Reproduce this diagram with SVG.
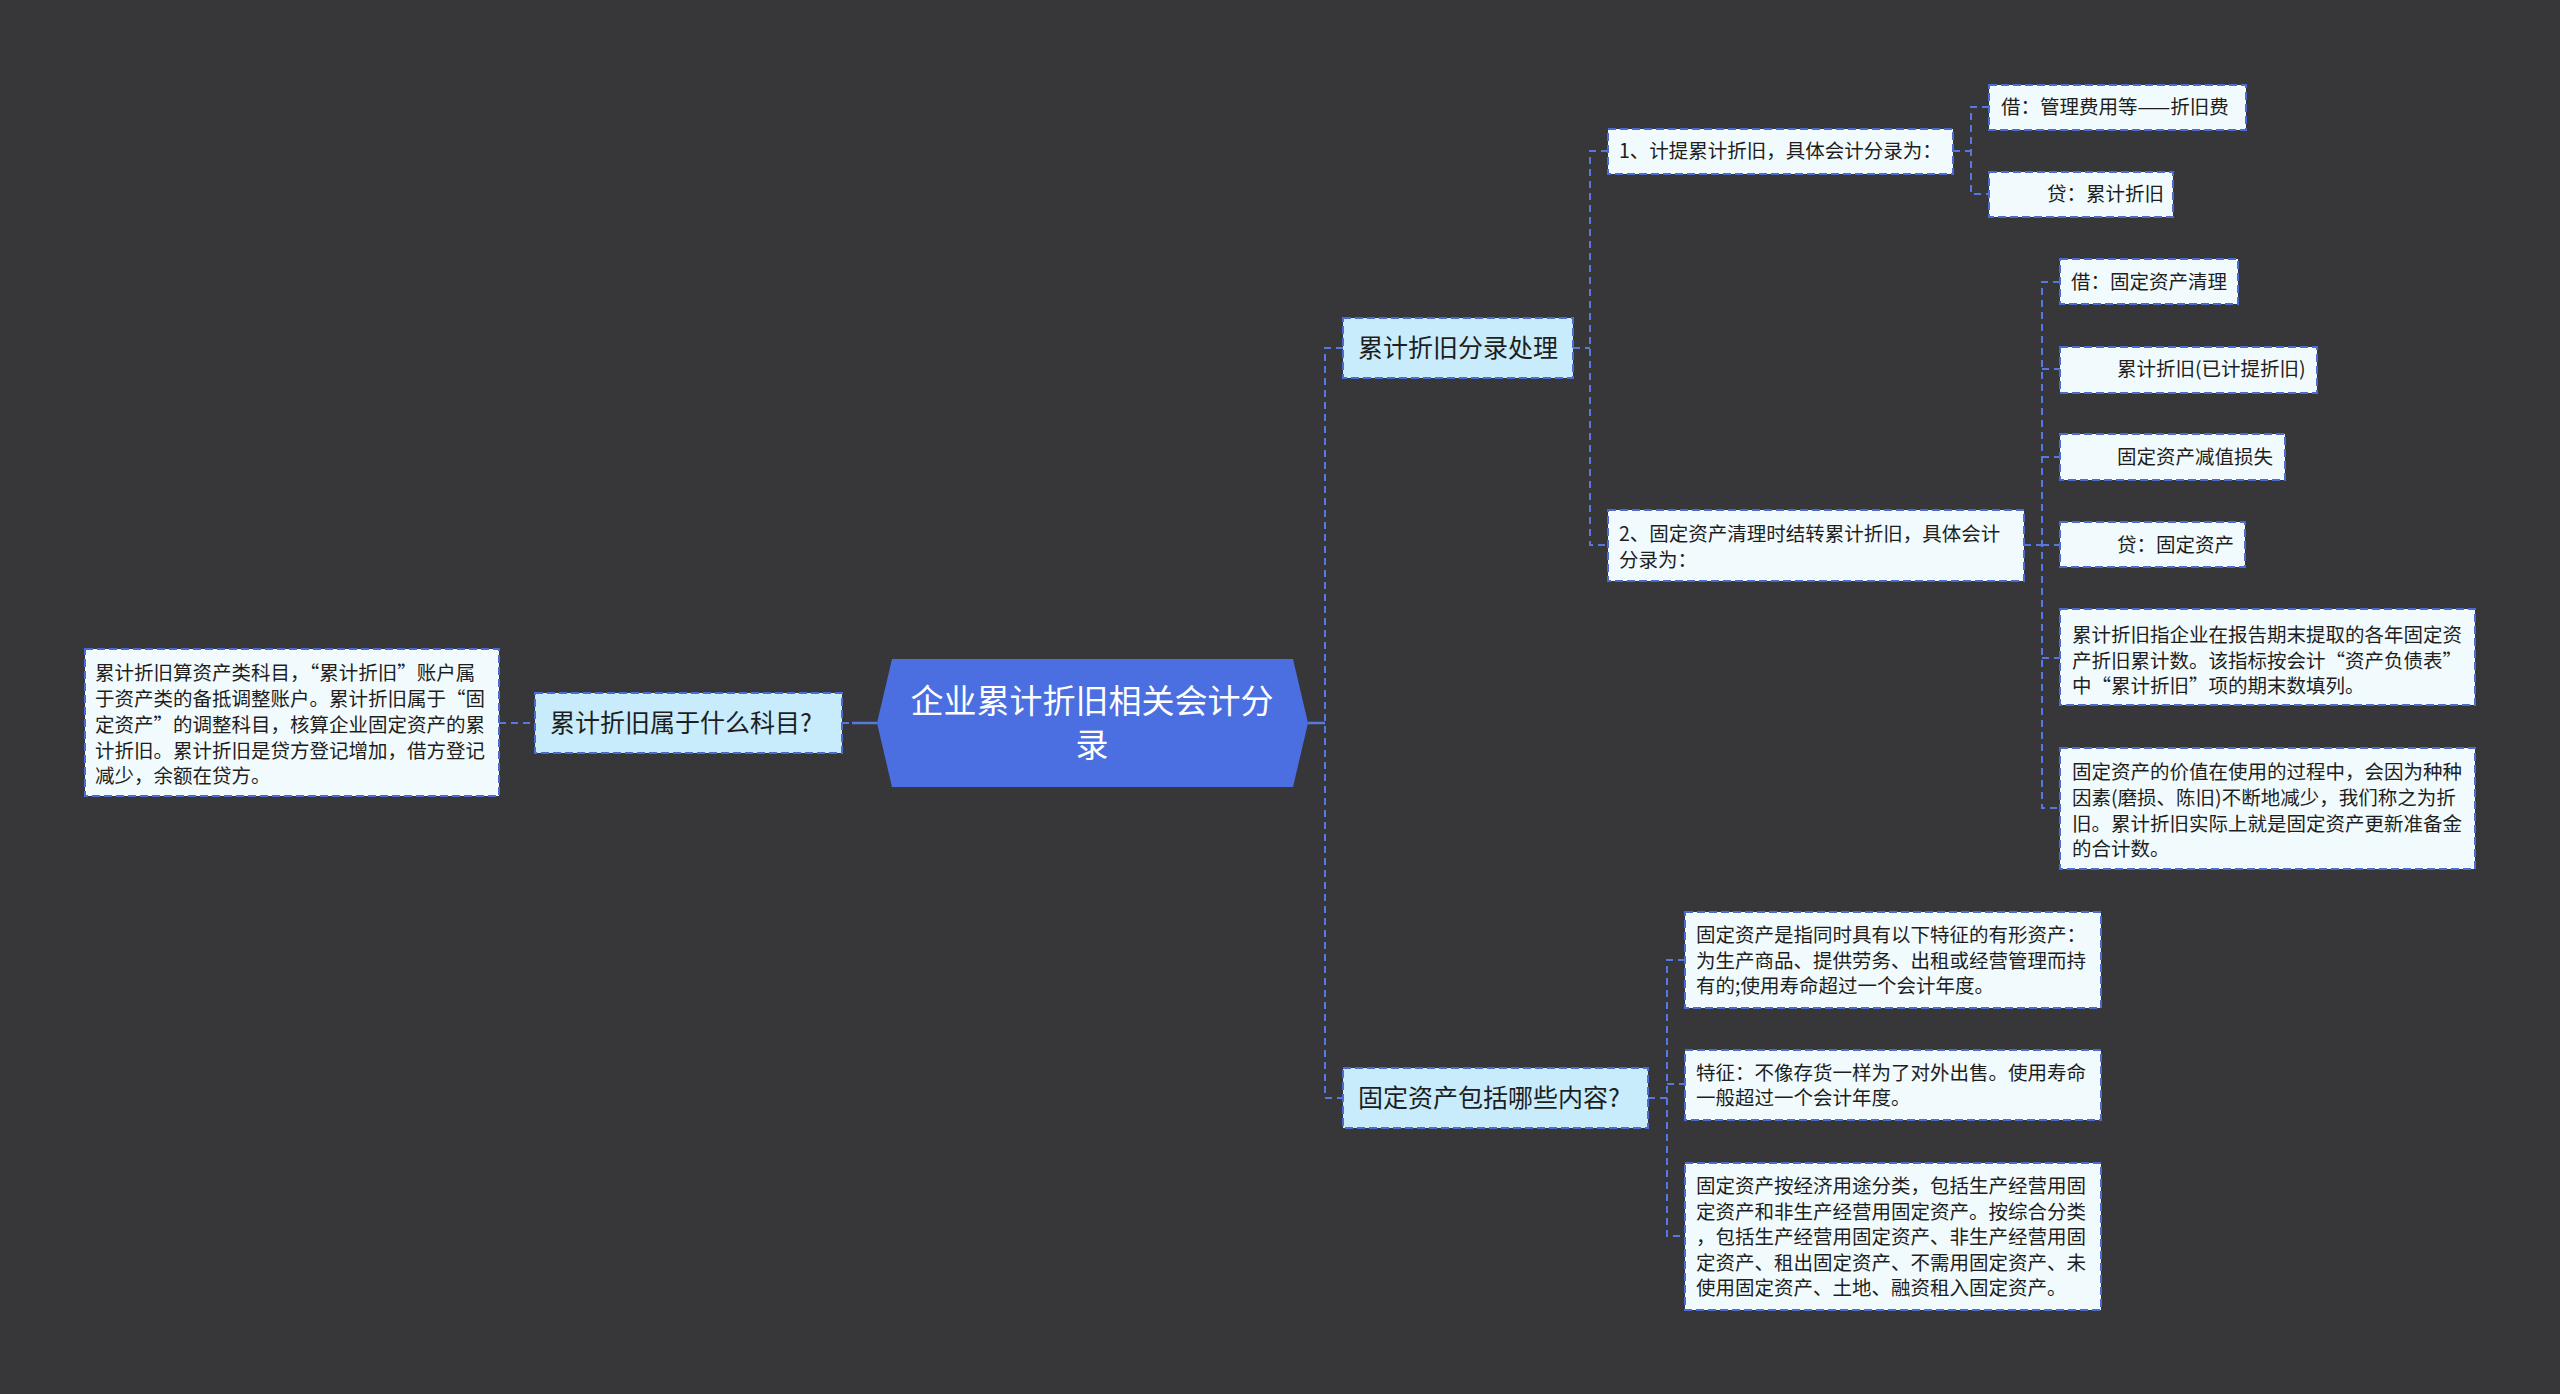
<svg xmlns="http://www.w3.org/2000/svg" width="2560" height="1394" viewBox="0 0 2560 1394">
<style>
text{font-family:"Noto Sans CJK SC","Noto Sans",sans-serif;fill:#1e1e1e;dominant-baseline:central}
.l1{fill:#c8ecfb;stroke:#4a6bd0;stroke-width:2;stroke-dasharray:8 4}
.lf{fill:#f1fbfd;stroke:#4a6bd0;stroke-width:2;stroke-dasharray:8 4}
.t1{font-size:25px}
.t2{font-size:19.5px}
.c{fill:none;stroke:#5579de;stroke-width:2;stroke-dasharray:7 5}
.s{fill:none;stroke:#5579de;stroke-width:2.5}
</style>
<rect width="2560" height="1394" fill="#373638"/>
<g id="connectors">
<line class="c" x1="499" y1="723" x2="535" y2="723"/>
<line class="c" x1="842" y1="723" x2="852" y2="723"/>
<line class="s" x1="852" y1="723" x2="877" y2="723"/>
<line class="s" x1="1308" y1="723" x2="1325" y2="723"/>
<path class="c" d="M1343 348H1325V1098H1343"/>
<path class="c" d="M1573 348H1590"/>
<path class="c" d="M1608 151H1590V545H1608"/>
<path class="c" d="M1953 151H1971"/>
<path class="c" d="M1989 107H1971V194H1989"/>
<path class="c" d="M2024 545H2042"/>
<path class="c" d="M2060 282H2042V808H2060"/>
<path class="c" d="M2042 369H2060M2042 457H2060M2042 545H2060M2042 658H2060"/>
<path class="c" d="M1648 1098H1667"/>
<path class="c" d="M1685 960H1667V1236H1685"/>
<path class="c" d="M1667 1084H1685"/>
</g>
<g id="root">
<polygon points="877,723 892,659 1293,659 1308,723 1293,787 892,787" fill="#4b6fe0"/>
<text x="1092" y="699" text-anchor="middle" style="font-size:33px;fill:#ffffff">企业累计折旧相关会计分</text>
<text x="1092" y="743" text-anchor="middle" style="font-size:33px;fill:#ffffff">录</text>
</g>
<g id="n-left">
<rect class="l1" x="535" y="693" width="307" height="60"/>
<text class="t1" x="550" y="721">累计折旧属于什么科目?</text>
</g>
<g id="n-left-leaf">
<rect class="lf" x="85" y="649" width="414" height="147"/>
<text class="t2" x="95" y="671">累计折旧算资产类科目，“累计折旧”账户属</text>
<text class="t2" x="95" y="697">于资产类的备抵调整账户。累计折旧属于“固</text>
<text class="t2" x="95" y="723">定资产”的调整科目，核算企业固定资产的累</text>
<text class="t2" x="95" y="749">计折旧。累计折旧是贷方登记增加，借方登记</text>
<text class="t2" x="95" y="774">减少，余额在贷方。</text>
</g>
<g id="n-fenlu">
<rect class="l1" x="1343" y="318" width="230" height="60"/>
<text class="t1" x="1358" y="346">累计折旧分录处理</text>
</g>
<g id="n-jiti">
<rect class="lf" x="1608" y="129" width="345" height="45"/>
<text class="t2" x="1619" y="149">1、计提累计折旧，具体会计分录为：</text>
</g>
<g id="n-jie1">
<rect class="lf" x="1989" y="85" width="257" height="45"/>
<text class="t2" x="2001" y="105">借：管理费用等——折旧费</text>
</g>
<g id="n-dai1">
<rect class="lf" x="1989" y="172" width="184" height="45"/>
<text class="t2" x="2047" y="192">贷：累计折旧</text>
</g>
<g id="n-qingli">
<rect class="lf" x="1608" y="510" width="416" height="71"/>
<text class="t2" x="1619" y="532">2、固定资产清理时结转累计折旧，具体会计</text>
<text class="t2" x="1619" y="558">分录为：</text>
</g>
<g id="n-jie2">
<rect class="lf" x="2060" y="259" width="178" height="45"/>
<text class="t2" x="2071" y="280">借：固定资产清理</text>
</g>
<g id="n-leiji">
<rect class="lf" x="2060" y="347" width="257" height="46"/>
<text class="t2" x="2117" y="367">累计折旧(已计提折旧)</text>
</g>
<g id="n-jianzhi">
<rect class="lf" x="2060" y="434" width="225" height="46"/>
<text class="t2" x="2117" y="455">固定资产减值损失</text>
</g>
<g id="n-dai2">
<rect class="lf" x="2060" y="522" width="185" height="45"/>
<text class="t2" x="2117" y="543">贷：固定资产</text>
</g>
<g id="n-def1">
<rect class="lf" x="2060" y="609" width="415" height="96"/>
<text class="t2" x="2072" y="633">累计折旧指企业在报告期末提取的各年固定资</text>
<text class="t2" x="2072" y="659">产折旧累计数。该指标按会计“资产负债表”</text>
<text class="t2" x="2072" y="684">中“累计折旧”项的期末数填列。</text>
</g>
<g id="n-def2">
<rect class="lf" x="2060" y="748" width="415" height="121"/>
<text class="t2" x="2072" y="770">固定资产的价值在使用的过程中，会因为种种</text>
<text class="t2" x="2072" y="796">因素(磨损、陈旧)不断地减少，我们称之为折</text>
<text class="t2" x="2072" y="822">旧。累计折旧实际上就是固定资产更新准备金</text>
<text class="t2" x="2072" y="847">的合计数。</text>
</g>
<g id="n-guding">
<rect class="l1" x="1343" y="1068" width="305" height="60"/>
<text class="t1" x="1358" y="1096">固定资产包括哪些内容?</text>
</g>
<g id="n-gd1">
<rect class="lf" x="1685" y="912" width="416" height="96"/>
<text class="t2" x="1696" y="933">固定资产是指同时具有以下特征的有形资产：</text>
<text class="t2" x="1696" y="959">为生产商品、提供劳务、出租或经营管理而持</text>
<text class="t2" x="1696" y="984">有的;使用寿命超过一个会计年度。</text>
</g>
<g id="n-gd2">
<rect class="lf" x="1685" y="1050" width="416" height="70"/>
<text class="t2" x="1696" y="1071">特征：不像存货一样为了对外出售。使用寿命</text>
<text class="t2" x="1696" y="1096">一般超过一个会计年度。</text>
</g>
<g id="n-gd3">
<rect class="lf" x="1685" y="1163" width="416" height="147"/>
<text class="t2" x="1696" y="1184">固定资产按经济用途分类，包括生产经营用固</text>
<text class="t2" x="1696" y="1210">定资产和非生产经营用固定资产。按综合分类</text>
<text class="t2" x="1696" y="1235">，包括生产经营用固定资产、非生产经营用固</text>
<text class="t2" x="1696" y="1261">定资产、租出固定资产、不需用固定资产、未</text>
<text class="t2" x="1696" y="1286">使用固定资产、土地、融资租入固定资产。</text>
</g>
</svg>
